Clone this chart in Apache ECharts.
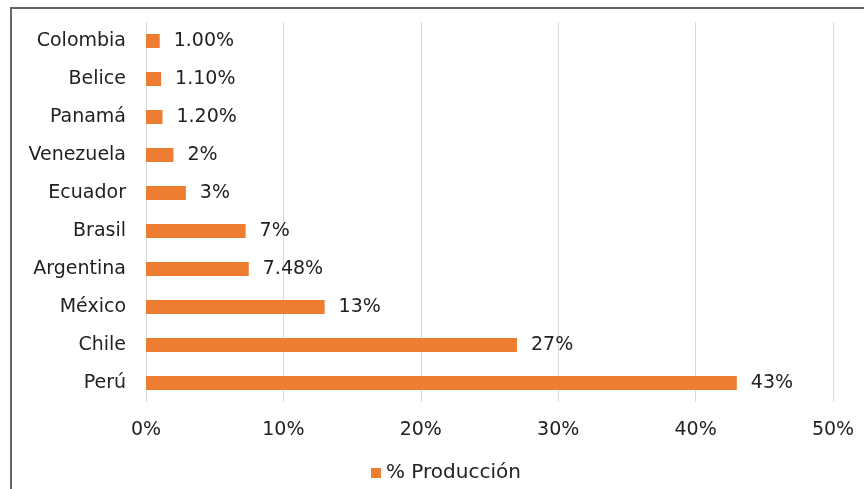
<!DOCTYPE html>
<html>
<head>
<meta charset="utf-8">
<script src="https://cdn.jsdelivr.net/npm/echarts@6/dist/echarts.min.js"></script>
<style>
html,body{margin:0;padding:0;background:#fff;}
#chart{width:864px;height:489px;}
</style>
</head>
<body>
<div id="chart"></div>
<script>
const categories = ['Perú','Chile','México','Argentina','Brasil','Ecuador','Venezuela','Panamá','Belice','Colombia'];
const values = [43, 27, 13, 7.48, 7.25, 2.9, 2, 1.2, 1.1, 1.0];
const labels = ['43%','27%','13%','7.48%','7%','3%','2%','1.20%','1.10%','1.00%'];
const ticks = [0, 10, 20, 30, 40, 50];
const seriesName = '% Producción';

const font = 'DejaVu Sans';
const textColor = '#222';
const chart = echarts.init(document.getElementById('chart'), null, {renderer: 'canvas'});
chart.setOption({
  backgroundColor: '#fff',
  animation: false,
  textStyle: {fontFamily: font},
  grid: {left: 146, right: 31, top: 22, bottom: 87, containLabel: false},
  xAxis: {
    type: 'value',
    min: ticks[0],
    max: ticks[ticks.length - 1],
    interval: ticks[1] - ticks[0],
    axisLine: {show: false},
    axisTick: {show: false},
    splitLine: {show: true, lineStyle: {color: '#d9d9d9', width: 1}},
    axisLabel: {formatter: v => v + '%', color: textColor, fontSize: 19, fontFamily: font, margin: 19}
  },
  yAxis: {
    type: 'category',
    data: categories,
    axisLine: {show: false},
    axisTick: {show: false},
    axisLabel: {color: textColor, fontSize: 19, fontFamily: font, margin: 20}
  },
  legend: {
    data: [seriesName],
    left: 366,
    top: 458,
    icon: 'rect',
    itemWidth: 10,
    itemHeight: 10,
    itemGap: 6,
    textStyle: {color: textColor, fontSize: 20, fontFamily: font}
  },
  series: [{
    name: seriesName,
    type: 'bar',
    data: values,
    barWidth: 14,
    itemStyle: {color: '#ED7D31'},
    label: {
      show: true,
      position: 'right',
      distance: 14,
      color: textColor,
      fontSize: 19,
      fontFamily: font,
      formatter: p => labels[p.dataIndex]
    }
  }],
  graphic: [
    {type: 'line', shape: {x1: 10, y1: 8, x2: 864, y2: 8}, style: {stroke: '#666', lineWidth: 2}},
    {type: 'line', shape: {x1: 11, y1: 8, x2: 11, y2: 489}, style: {stroke: '#666', lineWidth: 2}}
  ]
});
</script>
</body>
</html>
